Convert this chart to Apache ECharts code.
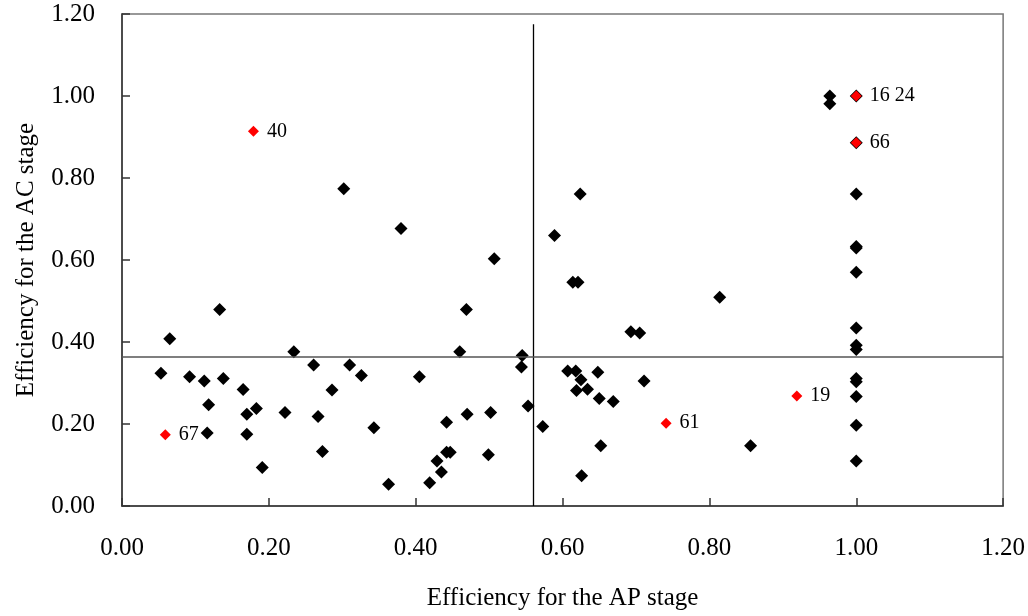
<!DOCTYPE html>
<html lang="en">

<head>
    <meta charset="UTF-8">
    <title>AP vs AC efficiency</title>
    <style>
        body { margin: 0; background: #fff; }
        #chart { width: 1028px; height: 616px; }
    </style>
</head>

<body>
    <div id="chart"></div>
    <script src="https://cdn.jsdelivr.net/npm/echarts@6/dist/echarts.min.js"></script>
    <script>
        // black points: efficiency for the AP stage (x) and AC stage (y)
        var apX = [0.065, 0.133, 0.053, 0.092, 0.112, 0.138, 0.118, 0.165, 0.170, 0.183,
            0.116, 0.170, 0.191, 0.234, 0.222, 0.261, 0.286, 0.267, 0.273, 0.310,
            0.326, 0.343, 0.363, 0.405, 0.469, 0.460, 0.442, 0.470, 0.502, 0.429,
            0.442, 0.447, 0.435, 0.419, 0.499, 0.553, 0.573, 0.652, 0.626, 0.693,
            0.705, 0.545, 0.544, 0.607, 0.618, 0.648, 0.625, 0.711, 0.619, 0.634,
            0.650, 0.669, 0.856, 0.302, 0.380, 0.507, 0.624, 0.589, 0.614, 0.621,
            0.814, 0.964, 0.964,
            1.00, 1.00, 1.00, 1.00, 1.00, 1.00, 1.00, 1.00, 1.00, 1.00, 1.00, 1.00, 1.00, 1.00, 1.00];
        var acY = [0.408, 0.479, 0.324, 0.315, 0.305, 0.311, 0.247, 0.284, 0.224, 0.238,
            0.178, 0.175, 0.094, 0.376, 0.228, 0.344, 0.283, 0.218, 0.133, 0.344,
            0.318, 0.191, 0.053, 0.315, 0.479, 0.376, 0.204, 0.224, 0.228, 0.110,
            0.131, 0.131, 0.083, 0.057, 0.125, 0.244, 0.194, 0.147, 0.074, 0.425,
            0.422, 0.367, 0.339, 0.329, 0.329, 0.326, 0.308, 0.305, 0.282, 0.285,
            0.262, 0.255, 0.147, 0.774, 0.677, 0.603, 0.761, 0.660, 0.546, 0.546,
            0.509, 1.000, 0.981,
            0.761, 0.633, 0.629, 0.570, 0.434, 0.392, 0.382, 0.311, 0.303, 0.267, 0.197, 0.110, 1.000, 0.886];

        // highlighted (red) points with their labels
        var redX = [1.00, 1.00, 0.179, 0.059, 0.741, 0.919];
        var redY = [1.00, 0.886, 0.914, 0.174, 0.202, 0.268];
        var redLabels = ['16 24', '66', '40', '67', '61', '19'];

        // reference lines (means)
        var meanAP = 0.56;
        var meanAC = 0.363;
        var vLineTop = 1.175;

        var xTicks = { min: 0, max: 1.2, interval: 0.2 };
        var yTicks = { min: 0, max: 1.2, interval: 0.2 };

        var blackData = apX.map(function (x, i) { return [x, acY[i]]; });
        var redData = redX.map(function (x, i) { return { value: [x, redY[i]], name: redLabels[i] }; });

        var serif = 'Liberation Serif';
        var chart = echarts.init(document.getElementById('chart'));

        var axisCommon = {
            type: 'value',
            nameLocation: 'middle',
            nameTextStyle: { fontFamily: serif, fontSize: 25, color: '#000' },
            axisLine: { show: true, lineStyle: { color: '#333', width: 1.5 } },
            axisTick: { show: true, inside: true, length: 8, lineStyle: { color: '#333', width: 1.5 } },
            axisLabel: {
                fontFamily: serif, fontSize: 25, color: '#000',
                formatter: function (v) { return v.toFixed(2); }
            },
            splitLine: { show: false }
        };

        var option = {
            animation: false,
            backgroundColor: '#fff',
            grid: {
                show: true,
                left: 122, top: 14, right: 19, bottom: 109,
                borderColor: '#777', borderWidth: 1.5
            },
            xAxis: Object.assign({}, axisCommon, {
                min: xTicks.min, max: xTicks.max, interval: xTicks.interval,
                name: 'Efficiency for the AP stage',
                nameGap: 80,
                axisLabel: Object.assign({}, axisCommon.axisLabel, { margin: 30 })
            }),
            yAxis: Object.assign({}, axisCommon, {
                min: yTicks.min, max: yTicks.max, interval: yTicks.interval,
                name: 'Efficiency for the AC stage',
                nameGap: 83,
                axisLabel: Object.assign({}, axisCommon.axisLabel, { margin: 27 })
            }),
            series: [
                {
                    type: 'scatter',
                    symbol: 'diamond',
                    symbolSize: 13,
                    itemStyle: { color: '#000', opacity: 1 },
                    data: blackData,
                    markLine: {
                        silent: true,
                        symbol: 'none',
                        label: { show: false },
                        data: [
                            [{ coord: [meanAP, 0], lineStyle: { color: '#000', width: 1.3, type: 'solid' } },
                             { coord: [meanAP, vLineTop] }],
                            [{ coord: [xTicks.min, meanAC], lineStyle: { color: '#555', width: 1.5, type: 'solid' } },
                             { coord: [xTicks.max, meanAC] }]
                        ]
                    }
                },
                {
                    type: 'scatter',
                    symbol: 'diamond',
                    symbolSize: 11,
                    itemStyle: { color: '#ff0000', opacity: 1 },
                    label: {
                        show: true,
                        position: 'right',
                        distance: 8,
                        formatter: '{b}',
                        fontFamily: serif,
                        fontSize: 20,
                        color: '#000'
                    },
                    data: redData
                }
            ]
        };
        chart.setOption(option);
    </script>
</body>

</html>
